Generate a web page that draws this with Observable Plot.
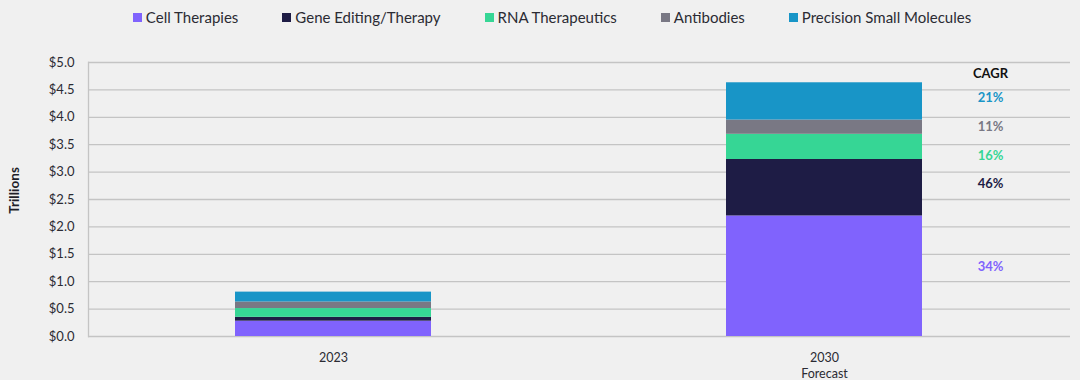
<!DOCTYPE html>
<html><head><meta charset="utf-8">
<script src="https://cdn.jsdelivr.net/npm/d3@7"></script>
<script src="https://cdn.jsdelivr.net/npm/@observablehq/plot@0.6"></script>
<style>
html,body{margin:0;padding:0;background:#f0f0f0;}
body{width:1080px;height:380px;overflow:hidden;font-family:Lato,"Open Sans",sans-serif;color:#2b2b33;}
#legend{height:34px;display:flex;align-items:center;justify-content:center;gap:44px;padding-left:24px;font-size:15px;}
#legend .item{display:flex;align-items:center;gap:4px;white-space:nowrap;}
#legend .sw{width:9px;height:9px;display:inline-block;}
</style>
</head><body>
<div id="legend"></div>
<div id="chart"></div>
<script>
const categories = ["Cell Therapies", "Gene Editing/Therapy", "RNA Therapeutics", "Antibodies", "Precision Small Molecules"];
const years = ["2023", "2030"];
const values2023 = [0.28, 0.07, 0.16, 0.12, 0.18];
const values2030 = [2.20, 1.03, 0.46, 0.26, 0.68];
const colors = ["#8063fd", "#1e1c45", "#36d695", "#797884", "#1895c7"];
const cagr = ["34%", "46%", "16%", "11%", "21%"];
const cagrLabelAt = [1.27, 2.79, 3.30, 3.83, 4.36];
const yTicks = [0, 0.5, 1, 1.5, 2, 2.5, 3, 3.5, 4, 4.5, 5];

const rows = [];
categories.forEach((c, i) => {
  rows.push({year: years[0], category: c, value: values2023[i]});
  rows.push({year: years[1], category: c, value: values2030[i]});
});
const cagrRows = categories.map((c, i) => ({year: years[1], category: c, label: cagr[i], at: cagrLabelAt[i]}));

// legend
const lg = document.getElementById("legend");
categories.forEach((c, i) => {
  const it = document.createElement("span"); it.className = "item";
  const sw = document.createElement("span"); sw.className = "sw"; sw.style.background = colors[i];
  const tx = document.createElement("span"); tx.textContent = c;
  it.appendChild(sw); it.appendChild(tx); lg.appendChild(it);
});

const chart = Plot.plot({
  width: 1080,
  height: 346,
  marginTop: 28,
  marginBottom: 44,
  marginLeft: 88,
  marginRight: 10,
  style: {background: "transparent", fontFamily: "Lato, 'Open Sans', sans-serif", fontSize: "12.5px", color: "#2b2b33"},
  x: {domain: years, paddingInner: 0.6, paddingOuter: 0.3, label: null},
  y: {domain: [0, 5], ticks: yTicks, label: null},
  color: {domain: categories, range: colors},
  marks: [
    Plot.gridY(yTicks, {stroke: "#c4c4c4", strokeOpacity: 1, strokeWidth: 1.3}),
    Plot.frame({anchor: "left", stroke: "#c4c4c4", strokeWidth: 1.3}),
    Plot.barY(rows, Plot.stackY({x: "year", y: "value", fill: "category", order: categories})),
    Plot.axisY(yTicks, {tickSize: 0, tickPadding: 14, tickFormat: d => "$" + d3.format(".1f")(d), fontSize: 13, label: null}),
    Plot.axisX({tickSize: 0, tickPadding: 14, tickFormat: d => d === "2030" ? "2030\nForecast" : d, fontSize: 12.5, lineHeight: 1.3, label: null}),
    Plot.text(["Trillions"], {frameAnchor: "left", textAnchor: "middle", text: d => d, rotate: -90, dx: -74, dy: -9, fontWeight: "bold", fontSize: 13.5, fill: "#1f1f29"}),
    Plot.text(cagrRows, {x: "year", y: "at", text: "label", fill: "category", dx: 166, fontWeight: "bold", fontSize: 13}),
    Plot.text(["CAGR"], {x: () => years[1], y: () => 4.80, text: d => d, dx: 166, fontWeight: "bold", fontSize: 13, fill: "#111"})
  ]
});
document.getElementById("chart").appendChild(chart);
</script>
</body></html>
